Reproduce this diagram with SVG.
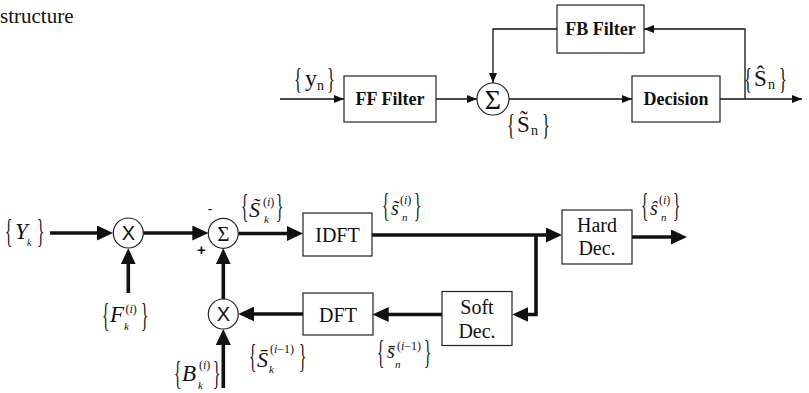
<svg xmlns="http://www.w3.org/2000/svg" width="809" height="393" viewBox="0 0 809 393">
<defs>
<style>
.box{fill:#fff;stroke:#222;stroke-width:1.2}
.node{fill:#fff;stroke:#222;stroke-width:1.2}
.thin{fill:none;stroke:#111;stroke-width:1.3}
.thick{fill:none;stroke:#111;stroke-width:3.6;stroke-linejoin:miter}
.serif{font-family:'Liberation Serif','Times New Roman',serif;fill:#111}
.sans{font-family:'Liberation Sans',Arial,sans-serif;fill:#111}
.bold{font-weight:bold}
.it{font-style:italic}
.mid{text-anchor:middle}
.br{font-family:'Liberation Serif','Times New Roman',serif;font-size:34px;fill:#111}
.brt{font-family:'Liberation Serif','Times New Roman',serif;font-size:30px;fill:#111}
.sub{font-size:11px}
.sup{font-size:12px}
</style>
<marker id="ah" markerUnits="userSpaceOnUse" markerWidth="10" markerHeight="8" refX="10" refY="4" orient="auto"><path d="M0,0 L10,4 L0,8 z" fill="#111"/></marker>
<marker id="AH" markerUnits="userSpaceOnUse" markerWidth="16" markerHeight="15" refX="11" refY="7.5" orient="auto"><path d="M0,0 L16,7.5 L0,15 z" fill="#111"/></marker>
</defs>
<rect width="809" height="393" fill="#fff"/>

<g id="title"><text class="serif" x="0" y="23" font-size="21">structure</text></g>

<!-- top diagram -->
<g id="connectors-top">
<path class="thin" d="M280,99 H344" marker-end="url(#ah)"/>
<path class="thin" d="M436,99 H477" marker-end="url(#ah)"/>
<path class="thin" d="M509,99 H632" marker-end="url(#ah)"/>
<path class="thin" d="M720,99 H802" marker-end="url(#ah)"/>
<path class="thin" d="M745,99 V29 H644" marker-end="url(#ah)"/>
<path class="thin" d="M557,29 H493 V83" marker-end="url(#ah)"/>
</g>
<g id="ff-filter"><rect class="box" x="344" y="76" width="92" height="46"/><text class="serif bold mid" x="390" y="105" font-size="18">FF Filter</text></g>
<g id="fb-filter"><rect class="box" x="557" y="5" width="87" height="48"/><text class="serif bold mid" x="600.5" y="35" font-size="18">FB Filter</text></g>
<g id="decision"><rect class="box" x="632" y="76" width="88" height="46"/><text class="serif bold mid" x="676" y="105" font-size="18">Decision</text></g>
<g id="sum-top"><circle class="node" cx="493" cy="99" r="16"/><text class="serif mid" x="493" y="109" font-size="28">Σ</text></g>
<g id="label-yn">
<text class="brt" transform="translate(294,88) scale(0.55,1)">{</text>
<text class="serif" x="305" y="86" font-size="24">y</text>
<text class="serif" x="317" y="90" font-size="14">n</text>
<text class="brt" transform="translate(327,88) scale(0.55,1)">}</text>
</g>
<g id="label-sn-tilde">
<text class="brt" transform="translate(507,134) scale(0.55,1)">{</text>
<text class="serif" x="517" y="132" font-size="23">S̃</text>
<text class="serif" x="531" y="135" font-size="14">n</text>
<text class="brt" transform="translate(542,134) scale(0.55,1)">}</text>
</g>
<g id="label-sn-hat">
<text class="brt" transform="translate(744,88) scale(0.55,1)">{</text>
<text class="serif" x="754" y="86" font-size="23">Ŝ</text>
<text class="serif" x="768" y="89" font-size="14">n</text>
<text class="brt" transform="translate(779,88) scale(0.55,1)">}</text>
</g>

<!-- bottom diagram -->
<g id="connectors-bottom">
<path class="thick" d="M50,233 H108" marker-end="url(#AH)"/>
<path class="thick" d="M143.3,233 H203.3" marker-end="url(#AH)"/>
<path class="thick" d="M128.3,293 V253.3" marker-end="url(#AH)"/>
<path class="thick" d="M223.3,299 V253.3" marker-end="url(#AH)"/>
<path class="thick" d="M223.3,388 V334" marker-end="url(#AH)"/>
<path class="thick" d="M238.3,233.5 H298" marker-end="url(#AH)"/>
<path class="thick" d="M372,235 H557" marker-end="url(#AH)"/>
<path class="thick" d="M536,235 V314.5 H517.3" marker-end="url(#AH)"/>
<path class="thick" d="M442,314.5 H377.7" marker-end="url(#AH)"/>
<path class="thick" d="M303,314 H243.3" marker-end="url(#AH)"/>
<path class="thick" d="M632,237 H682" marker-end="url(#AH)"/>
</g>
<g id="mult-top"><circle class="node" cx="128.3" cy="233" r="15"/><text class="sans mid" x="128.3" y="240" font-size="20">X</text></g>
<g id="sum-bottom"><circle class="node" cx="223.3" cy="233.3" r="15"/><text class="serif mid" x="223.3" y="240.5" font-size="21">Σ</text>
<text class="sans mid" x="210" y="214" font-size="14">-</text>
<text class="sans bold mid" x="201.5" y="255" font-size="15">+</text></g>
<g id="mult-bottom"><circle class="node" cx="223.3" cy="314" r="15"/><text class="sans mid" x="223.3" y="321" font-size="20">X</text></g>
<g id="idft"><rect class="box" x="303" y="213" width="69" height="43"/><text class="serif mid" x="337.5" y="242" font-size="20">IDFT</text></g>
<g id="dft"><rect class="box" x="303" y="293" width="70" height="42"/><text class="serif mid" x="338" y="321.5" font-size="20">DFT</text></g>
<g id="hard-dec"><rect class="box" x="562" y="210" width="70" height="54"/><text class="serif mid" x="597" y="232" font-size="20">Hard</text><text class="serif mid" x="597" y="255" font-size="20">Dec.</text></g>
<g id="soft-dec"><rect class="box" x="442" y="291.5" width="70" height="54"/><text class="serif mid" x="477" y="313.5" font-size="20">Soft</text><text class="serif mid" x="477" y="337.5" font-size="20">Dec.</text></g>

<g id="label-Yk">
<text class="br" transform="translate(5,242) scale(0.45,1)">{</text>
<text class="serif it" x="15" y="238.5" font-size="23">Y</text>
<text class="serif it" x="27" y="246" font-size="10">k</text>
<text class="br" transform="translate(37,242) scale(0.45,1)">}</text>
</g>
<g id="label-Fk">
<text class="br" transform="translate(102,326) scale(0.45,1)">{</text>
<text class="serif it" x="110" y="321.7" font-size="23">F</text>
<text class="serif sup" x="125.5" y="313"><tspan>(</tspan><tspan class="it">i</tspan><tspan>)</tspan></text>
<text class="serif it sub" x="124" y="330">k</text>
<text class="br" transform="translate(141,326) scale(0.45,1)">}</text>
</g>
<g id="label-Bk">
<text class="br" transform="translate(174,384) scale(0.45,1)">{</text>
<text class="serif it" x="182" y="381" font-size="23">B</text>
<text class="serif sup" x="199" y="369"><tspan>(</tspan><tspan class="it">i</tspan><tspan>)</tspan></text>
<text class="serif it sub" x="198" y="389">k</text>
<text class="br" transform="translate(213,384) scale(0.45,1)">}</text>
</g>
<g id="label-Sk-bar">
<text class="br" transform="translate(249,367) scale(0.45,1)">{</text>
<text class="serif it" x="257" y="366.7" font-size="22">S̄</text>
<text class="serif sup" x="270" y="353"><tspan>(</tspan><tspan class="it">i</tspan><tspan>−1)</tspan></text>
<text class="serif it sub" x="269" y="373">k</text>
<text class="br" transform="translate(299,367) scale(0.45,1)">}</text>
</g>
<g id="label-Sk-tilde">
<text class="br" transform="translate(241,217) scale(0.45,1)">{</text>
<text class="serif it" x="249" y="216.7" font-size="22">S̃</text>
<text class="serif sup" x="263" y="206"><tspan>(</tspan><tspan class="it">i</tspan><tspan>)</tspan></text>
<text class="serif it sub" x="264" y="223">k</text>
<text class="br" transform="translate(276,217) scale(0.45,1)">}</text>
</g>
<g id="label-sn-tilde-i">
<text class="br" transform="translate(382,216) scale(0.45,1)">{</text>
<text class="serif it" x="391" y="215" font-size="20">s̃</text>
<text class="serif sup" x="400" y="204"><tspan>(</tspan><tspan class="it">i</tspan><tspan>)</tspan></text>
<text class="serif it sub" x="402" y="221">n</text>
<text class="br" transform="translate(414,216) scale(0.45,1)">}</text>
</g>
<g id="label-sn-hat-i">
<text class="br" transform="translate(641,216) scale(0.45,1)">{</text>
<text class="serif it" x="650" y="215" font-size="20">ŝ</text>
<text class="serif sup" x="659" y="204"><tspan>(</tspan><tspan class="it">i</tspan><tspan>)</tspan></text>
<text class="serif it sub" x="661" y="221">n</text>
<text class="br" transform="translate(673,216) scale(0.45,1)">}</text>
</g>
<g id="label-sn-bar">
<text class="br" transform="translate(377,363) scale(0.45,1)">{</text>
<text class="serif it" x="387" y="358" font-size="20">s̄</text>
<text class="serif sup" x="397" y="350"><tspan>(</tspan><tspan class="it">i</tspan><tspan>−1)</tspan></text>
<text class="serif it sub" x="395" y="368">n</text>
<text class="br" transform="translate(424,363) scale(0.45,1)">}</text>
</g>
</svg>
